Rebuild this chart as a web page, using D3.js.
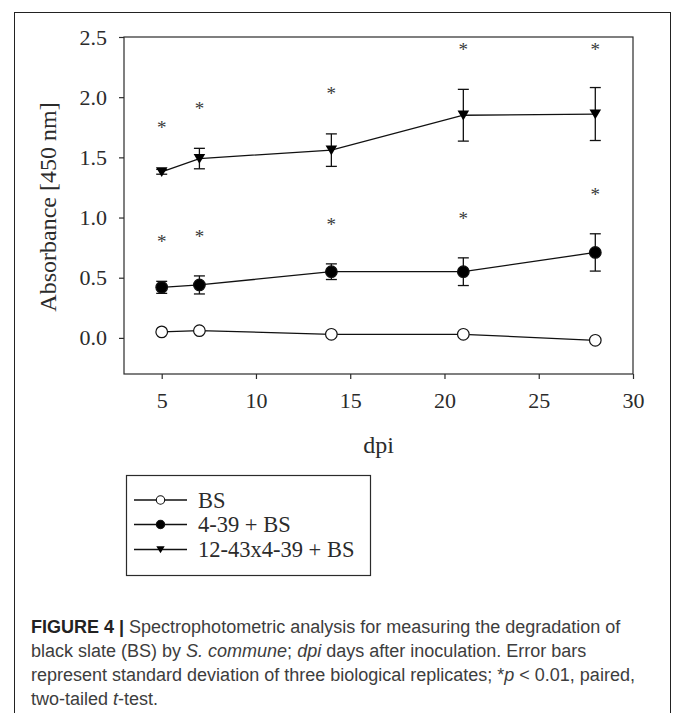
<!DOCTYPE html>
<html lang="en">
<head>
<meta charset="UTF-8">
<script src="https://cdn.jsdelivr.net/npm/d3@7/dist/d3.min.js"></script>
<title>Figure 4</title>
<style>
    body, html {
        margin: 0;
        padding: 0;
        background: #fff;
    }
</style>
</head>
<body>
<div id="chart"></div>
<script>

// data
const days = [5, 7, 14, 21, 28]
const seriesNames = ["BS", "4-39 + BS", "12-43x4-39 + BS"]
const bsMean = [0.05, 0.06, 0.03, 0.03, -0.02]
const bsSd = [0.01, 0.01, 0.01, 0.01, 0.01]
const strainMean = [0.42, 0.44, 0.55, 0.55, 0.71]
const strainSd = [0.05, 0.075, 0.065, 0.115, 0.155]
const crossMean = [1.38, 1.49, 1.56, 1.85, 1.86]
const crossSd = [0.02, 0.085, 0.135, 0.215, 0.22]
// asterisk heights (significance marks)
const starHigh = [1.77, 1.93, 2.05, 2.42, 2.42]
const starLow = [0.82, 0.86, 0.96, 1.01, 1.21]
const xTicks = [5, 10, 15, 20, 25, 30]
const yTicks = [0.0, 0.5, 1.0, 1.5, 2.0, 2.5]

const W = 673, H = 713
const plot = { left: 124, right: 633, top: 37, bottom: 374 }
const ink = "#2b2b2b"
const serif = "'Liberation Serif', 'Times New Roman', serif"
const sans = "'Liberation Sans', Arial, sans-serif"

const svg = d3.select("#chart").append("svg").attr("width", W).attr("height", H)

// outer frame of the figure panel
svg.append("rect").attr("x", 14.5).attr("y", 12.5).attr("width", 656).attr("height", H + 20)
    .attr("fill", "none").attr("stroke", "#222").attr("stroke-width", 1)

const x = d3.scaleLinear().domain([3, 30]).range([plot.left, plot.right])
const y = d3.scaleLinear().domain([-0.3, 2.5]).range([plot.bottom, plot.top])

// axes
const gx = svg.append("g").attr("transform", `translate(0,${plot.bottom})`)
    .call(d3.axisBottom(x).tickValues(xTicks).tickFormat(d3.format("d")).tickSize(5).tickPadding(13))
const gy = svg.append("g").attr("transform", `translate(${plot.left},0)`)
    .call(d3.axisLeft(y).tickValues(yTicks).tickFormat(d3.format(".1f")).tickSize(5).tickPadding(12))
;[gx, gy].forEach(g => {
    g.selectAll("path, line").attr("stroke", ink).attr("stroke-width", 1.2)
    g.selectAll("text").style("font-family", serif).attr("font-size", 22).attr("fill", ink)
})
gx.select(".domain").remove()
gy.select(".domain").remove()

// plot box
svg.append("rect").attr("x", plot.left).attr("y", plot.top)
    .attr("width", plot.right - plot.left).attr("height", plot.bottom - plot.top)
    .attr("fill", "none").attr("stroke", ink).attr("stroke-width", 1.2)

// axis titles
svg.append("text").attr("transform", `translate(56,207) rotate(-90)`).attr("text-anchor", "middle")
    .style("font-family", serif).attr("font-size", 24).attr("fill", ink).text("Absorbance [450 nm]")
svg.append("text").attr("x", (plot.left + plot.right) / 2).attr("y", 453).attr("text-anchor", "middle")
    .style("font-family", serif).attr("font-size", 24).attr("fill", ink).text("dpi")

// symbols
const tri = r => `M${-r},${-r * 0.8}L${r},${-r * 0.8}L0,${r * 0.9}Z`
const series = [
    { name: seriesNames[0], mean: bsMean, sd: bsSd, shape: "circle", fill: "#fff" },
    { name: seriesNames[1], mean: strainMean, sd: strainSd, shape: "circle", fill: "#000" },
    { name: seriesNames[2], mean: crossMean, sd: crossSd, shape: "tri", fill: "#000" },
]

const line = d3.line().x(d => x(d[0])).y(d => y(d[1]))

series.forEach(s => {
    const pts = days.map((d, i) => [d, s.mean[i], s.sd[i]])
    const g = svg.append("g")
    // error bars
    const eb = g.selectAll("g.eb").data(pts).enter().append("g").attr("stroke", "#111").attr("stroke-width", 1.3)
    eb.append("line").attr("x1", d => x(d[0])).attr("x2", d => x(d[0]))
        .attr("y1", d => y(d[1] - d[2])).attr("y2", d => y(d[1] + d[2]))
    eb.append("line").attr("x1", d => x(d[0]) - 5.5).attr("x2", d => x(d[0]) + 5.5)
        .attr("y1", d => y(d[1] + d[2])).attr("y2", d => y(d[1] + d[2]))
    eb.append("line").attr("x1", d => x(d[0]) - 5.5).attr("x2", d => x(d[0]) + 5.5)
        .attr("y1", d => y(d[1] - d[2])).attr("y2", d => y(d[1] - d[2]))
    // connecting line
    g.append("path").datum(pts).attr("d", line).attr("fill", "none").attr("stroke", "#111").attr("stroke-width", 1.3)
    // markers
    if (s.shape === "circle") {
        g.selectAll("circle").data(pts).enter().append("circle")
            .attr("cx", d => x(d[0])).attr("cy", d => y(d[1])).attr("r", 5.8)
            .attr("fill", s.fill).attr("stroke", "#111").attr("stroke-width", 1.2)
    } else {
        g.selectAll("path.m").data(pts).enter().append("path").attr("class", "m")
            .attr("transform", d => `translate(${x(d[0])},${y(d[1])})`).attr("d", tri(5.8)).attr("fill", "#000")
    }
})

// asterisks
svg.append("g").selectAll("text").data([...days.map((d, i) => [d, starHigh[i]]), ...days.map((d, i) => [d, starLow[i]])])
    .enter().append("text").attr("x", d => x(d[0])).attr("y", d => y(d[1])).attr("dy", "0.47em")
    .attr("text-anchor", "middle").style("font-family", serif).attr("font-size", 19).attr("fill", "#3a3a3a").text("*")

// legend
const lg = svg.append("g")
lg.append("rect").attr("x", 126.5).attr("y", 475.5).attr("width", 244).attr("height", 100)
    .attr("fill", "#fff").attr("stroke", ink).attr("stroke-width", 1.2)
const rows = [500, 524.5, 549.5]
series.forEach((s, i) => {
    const yy = rows[i]
    lg.append("line").attr("x1", 134).attr("x2", 187).attr("y1", yy).attr("y2", yy).attr("stroke", "#111").attr("stroke-width", 1.3)
    if (s.shape === "circle") {
        lg.append("circle").attr("cx", 160.5).attr("cy", yy).attr("r", 4.2).attr("fill", s.fill).attr("stroke", "#111").attr("stroke-width", 1.1)
    } else {
        lg.append("path").attr("transform", `translate(160.5,${yy})`).attr("d", tri(4.2)).attr("fill", "#000")
    }
    lg.append("text").attr("x", 198).attr("y", yy + 7.5).style("font-family", serif).attr("font-size", 22.5).attr("fill", ink).text(s.name)
})

// caption
const capLines = [
    [["FIGURE 4 |", "b"], [" Spectrophotometric analysis for measuring the degradation of", ""]],
    [["black slate (BS) by ", ""], ["S. commune", "i"], ["; ", ""], ["dpi", "i"], [" days after inoculation. Error bars", ""]],
    [["represent standard deviation of three biological replicates; *", ""], ["p", "i"], [" < 0.01, paired,", ""]],
    [["two-tailed ", ""], ["t", "i"], ["-test.", ""]],
]
const cap = svg.append("g")
capLines.forEach((parts, i) => {
    const t = cap.append("text").attr("x", 31).attr("y", 633 + i * 24)
        .style("font-family", sans).attr("font-size", 18).attr("fill", "#3d3d3d")
    parts.forEach(p => {
        const ts = t.append("tspan").text(p[0])
        if (p[1] === "b") ts.attr("font-weight", "bold").attr("fill", "#222")
        if (p[1] === "i") ts.attr("font-style", "italic")
    })
})

</script>
</body>
</html>
